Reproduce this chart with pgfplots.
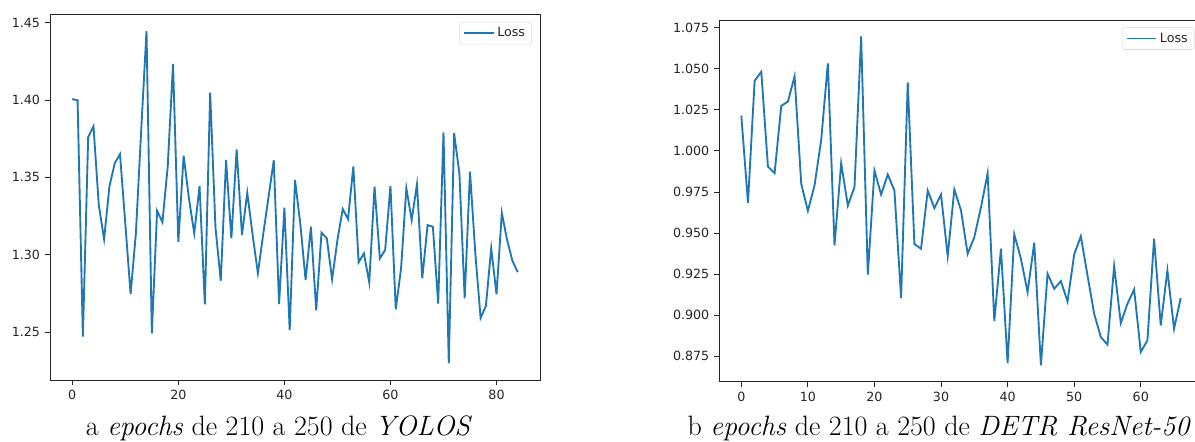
\documentclass[border=0pt]{standalone}
\usepackage{pgfplots}
\pgfplotsset{compat=1.18}
\usepackage{fontspec}
\newfontfamily\dejavu{DejaVu Sans}
\definecolor{mplblue}{HTML}{1F77B4}

\pgfplotstableread{
x y
0 1.4006
1 1.3998
2 1.2470
3 1.3760
4 1.3830
5 1.3320
6 1.3100
7 1.3440
8 1.3590
9 1.3650
10 1.3200
11 1.2745
12 1.3140
13 1.3806
14 1.4446
15 1.2490
16 1.3284
17 1.3210
18 1.3570
19 1.4233
20 1.3083
21 1.3640
22 1.3364
23 1.3138
24 1.3444
25 1.2678
26 1.4047
27 1.3177
28 1.2831
29 1.3612
30 1.3105
31 1.3681
32 1.3127
33 1.3400
34 1.3130
35 1.2880
36 1.3130
37 1.3370
38 1.3610
39 1.2680
40 1.3304
41 1.2512
42 1.3483
43 1.3200
44 1.2836
45 1.3180
46 1.2640
47 1.3142
48 1.3105
49 1.2840
50 1.3094
51 1.3295
52 1.3230
53 1.3570
54 1.2950
55 1.3008
56 1.2820
57 1.3440
58 1.2975
59 1.3030
60 1.3444
61 1.2646
62 1.2910
63 1.3430
64 1.3224
65 1.3455
66 1.2847
67 1.3191
68 1.3180
69 1.2684
70 1.3790
71 1.2297
72 1.3785
73 1.3526
74 1.2717
75 1.3537
76 1.3010
77 1.2590
78 1.2668
79 1.3040
80 1.2743
81 1.3270
82 1.3094
83 1.2960
84 1.2886
}\yolos

\pgfplotstableread{
x y
0 1.0215
1 0.9684
2 1.0426
3 1.0482
4 0.9904
5 0.9864
6 1.0274
7 1.0300
8 1.0454
9 0.9800
10 0.9635
11 0.9790
12 1.0067
13 1.0533
14 0.9424
15 0.9925
16 0.9667
17 0.9779
18 1.0697
19 0.9246
20 0.9880
21 0.9734
22 0.9856
23 0.9758
24 0.9104
25 1.0417
26 0.9432
27 0.9404
28 0.9758
29 0.9651
30 0.9734
31 0.9359
32 0.9765
33 0.9637
34 0.9373
35 0.9475
36 0.9657
37 0.9864
38 0.8964
39 0.9404
40 0.8708
41 0.9491
42 0.9343
43 0.9140
44 0.9440
45 0.8694
46 0.9252
47 0.9160
48 0.9207
49 0.9083
50 0.9369
51 0.9480
52 0.9241
53 0.9008
54 0.8866
55 0.8820
56 0.9298
57 0.8951
58 0.9069
59 0.9156
60 0.8775
61 0.8846
62 0.9465
63 0.8937
64 0.9272
65 0.8917
66 0.9103
}\detr

\pgfplotsset{
  mplstyle/.style={
    scale only axis,
    axis line style={line width=0.6pt, black!85},
    tick align=outside,
    xtick pos=bottom,
    ytick pos=left,
    major tick length=4pt,
    tick style={line width=0.6pt, black!85},
    tick label style={font=\dejavu\fontsize{9.5}{11}\selectfont, text=black!85},
    /pgf/number format/assume math mode=true,
    legend style={at={(1,1)}, anchor=north east, xshift=-6pt, yshift=-5.5pt,
      draw=black!15, rounded corners=2pt, font=\dejavu\fontsize{9.5}{11}\selectfont,
      text=black!85, inner xsep=3pt, inner ysep=2pt},
    legend image code/.code={\draw[mplblue, line width=1.4pt] (0pt,0pt) -- (22pt,0pt);},
    legend cell align=left,
  }
}

\begin{document}
\begin{tikzpicture}
\useasboundingbox (0,0) rectangle (896.25pt,331.5pt);
\begin{axis}[mplstyle,
  at={(37.5pt,46.5pt)}, anchor=south west,
  width=367.5pt, height=274.1pt,
  xmin=-4.2, xmax=88.2, ymin=1.2189, ymax=1.4553,
  xtick={0,20,40,60,80},
  ytick={1.25,1.30,1.35,1.40,1.45},
  yticklabel style={/pgf/number format/.cd, fixed, fixed zerofill, precision=2},
]
\addplot[mplblue, line width=1.4pt] table[x=x,y=y]{\yolos};
\addlegendentry{Loss}
\end{axis}
\begin{axis}[mplstyle,
  at={(539.5pt,45.2pt)}, anchor=south west,
  width=362.5pt, height=271.3pt,
  xmin=-3.3, xmax=69.3, ymin=0.8594, ymax=1.0797,
  xtick={0,10,20,30,40,50,60},
  ytick={0.875,0.900,0.925,0.950,0.975,1.000,1.025,1.050,1.075},
  yticklabel style={/pgf/number format/.cd, fixed, fixed zerofill, precision=3},
]
\addplot[mplblue, line width=1.4pt] table[x=x,y=y]{\detr};
\addlegendentry{Loss}
\end{axis}
\node[anchor=base, font=\fontsize{21}{25}\selectfont, inner sep=0pt] at (209.3pt,4.5pt) {a \textit{epochs} de 210 a 250 de \textit{YOLOS}};
\node[anchor=base, font=\fontsize{21}{25}\selectfont, inner sep=0pt] at (704.3pt,4.5pt) {b \textit{epochs} de 210 a 250 de \textit{DETR ResNet-50}};
\end{tikzpicture}
\end{document}
